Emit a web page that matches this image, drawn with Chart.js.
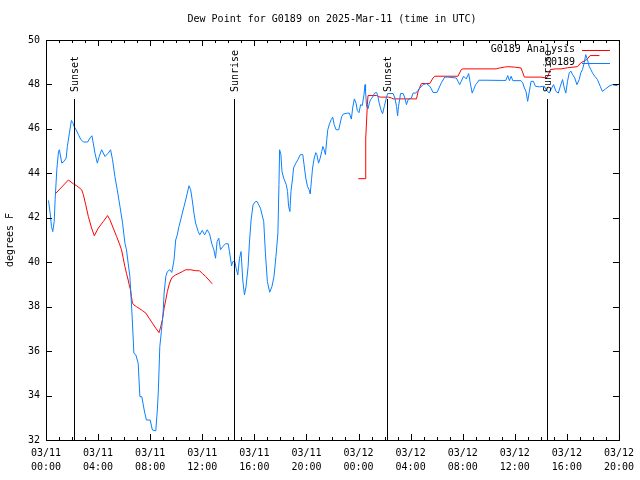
<!DOCTYPE html>
<html>
<head>
<meta charset="utf-8">
<script src="https://cdn.jsdelivr.net/npm/chart.js@4/dist/chart.umd.min.js"></script>
<style>
html, body { margin: 0; padding: 0; background: #fff; }
</style>
</head>
<body>
<canvas id="dewChart" width="640" height="480"></canvas>
<script>
var titleText = 'Dew Point for G0189 on 2025-Mar-11 (time in UTC)';

// hours since 03/11 00:00 UTC
var tickHours = [0, 4, 8, 12, 16, 20, 24, 28, 32, 36, 40, 44];
var tickDays = ['03/11', '03/11', '03/11', '03/11', '03/11', '03/11', '03/12', '03/12', '03/12', '03/12', '03/12', '03/12'];
var tickTimes = ['00:00', '04:00', '08:00', '12:00', '16:00', '20:00', '00:00', '04:00', '08:00', '12:00', '16:00', '20:00'];

var eventHours = [2.13, 14.45, 26.15, 38.47];
var eventNames = ['Sunset', 'Sunrise', 'Sunset', 'Sunrise'];

// G0189 observations
var obsHours = [0.19,0.32,0.42,0.52,0.63,0.70,0.83,0.96,1.03,1.21,
  1.39,1.55,1.64,1.80,1.95,2.05,2.16,2.31,2.49,2.66,
  2.87,3.20,3.38,3.53,3.63,3.76,3.94,4.09,4.27,4.53,
  4.78,4.96,5.11,5.29,5.47,5.68,5.88,6.06,6.18,6.31,
  6.44,6.56,6.64,6.75,6.90,7.08,7.21,7.36,7.54,7.71,
  8.00,8.17,8.43,8.55,8.63,8.74,8.86,8.99,9.07,9.20,
  9.32,9.50,9.66,9.83,9.96,10.08,10.21,10.34,10.47,10.60,
  10.73,10.85,10.98,11.11,11.23,11.36,11.49,11.69,11.80,12.00,
  12.18,12.38,12.56,12.72,12.89,13.02,13.14,13.27,13.40,13.58,
  13.79,13.99,14.09,14.25,14.35,14.50,14.60,14.73,14.86,14.98,
  15.11,15.24,15.36,15.52,15.62,15.75,15.90,16.08,16.21,16.47,
  16.72,16.85,17.00,17.18,17.35,17.51,17.66,17.81,17.89,17.94,
  18.04,18.12,18.25,18.45,18.55,18.63,18.73,18.81,18.94,19.01,
  19.19,19.34,19.53,19.72,19.85,19.95,20.08,20.21,20.29,20.39,
  20.47,20.60,20.72,20.80,20.93,21.06,21.18,21.26,21.36,21.46,
  21.56,21.64,21.77,21.90,22.02,22.13,22.28,22.48,22.59,22.71,
  22.84,23.15,23.30,23.45,23.55,23.68,23.81,23.91,24.04,24.16,
  24.29,24.42,24.50,24.54,24.62,24.73,24.83,24.93,25.08,25.23,
  25.39,25.49,25.59,25.72,25.85,25.98,26.11,26.23,26.66,26.79,
  26.92,27.00,27.07,27.18,27.22,27.43,27.56,27.68,27.81,28.06,
  28.19,28.40,28.58,28.71,28.96,29.21,29.47,29.59,29.72,30.03,
  30.18,30.36,30.62,30.87,31.51,31.64,31.77,31.89,32.07,32.27,
  32.46,32.58,32.73,32.84,32.99,33.11,33.24,33.80,35.08,35.31,
  35.46,35.59,35.72,35.85,36.48,36.61,36.74,36.86,36.99,37.12,
  37.25,37.43,37.58,37.89,38.27,38.40,38.65,38.83,38.98,39.16,
  39.34,39.50,39.67,39.80,39.92,40.05,40.18,40.31,40.44,40.61,
  40.77,40.95,41.07,41.20,41.33,41.45,41.58,41.71,41.84,41.97,
  42.14,42.35,42.56,42.73,42.98,43.24,43.50,43.88];
var obsDew = [42.78,42.21,41.6,41.38,41.83,42.81,44.16,44.99,45.06,44.46,
  44.54,44.69,45.21,45.82,46.38,46.29,46.11,45.96,45.74,45.54,
  45.41,45.41,45.59,45.69,45.36,44.91,44.46,44.76,45.06,44.76,
  44.91,45.06,44.61,43.86,43.26,42.51,41.76,40.86,40.56,39.96,
  39.36,38.16,37.26,35.9,35.83,35.45,33.95,33.95,33.35,32.9,
  32.9,32.45,32.41,33.35,34.25,36.2,36.88,37.7,38.6,39.36,
  39.58,39.66,39.54,40.1,41.0,41.23,41.6,41.9,42.21,42.51,
  42.81,43.11,43.44,43.26,42.81,42.21,41.76,41.38,41.23,41.43,
  41.23,41.46,41.28,40.86,40.56,40.18,40.93,41.08,40.56,40.71,
  40.83,40.83,40.48,39.84,40.03,40.03,39.73,39.43,40.18,40.48,
  39.2,38.53,38.9,39.8,40.86,41.9,42.58,42.73,42.73,42.43,
  41.83,40.41,39.13,38.65,38.9,39.36,40.26,41.31,43.5,45.06,
  44.84,44.09,43.79,43.49,43.18,42.51,42.28,43.18,43.79,44.24,
  44.46,44.61,44.84,44.84,44.24,43.79,43.41,43.26,43.07,43.71,
  44.24,44.69,44.93,44.84,44.46,44.69,44.99,45.21,45.06,44.84,
  45.51,45.96,46.23,46.41,46.53,46.19,45.96,45.96,46.26,46.56,
  46.67,46.71,46.71,46.44,46.94,47.35,47.16,46.82,46.73,47.09,
  47.05,47.54,47.99,47.69,47.01,46.9,47.16,47.32,47.43,47.61,
  47.64,47.46,47.16,46.86,46.68,47.01,47.32,47.59,47.59,47.39,
  47.01,46.59,47.01,47.39,47.59,47.59,47.39,47.09,47.32,47.39,
  47.61,47.61,47.74,47.84,47.99,48.04,47.92,47.8,47.64,47.64,
  47.84,48.07,48.33,48.33,48.29,48.14,47.99,48.14,48.37,48.25,
  48.49,48.07,47.61,47.77,47.99,48.07,48.19,48.19,48.18,48.18,
  48.4,48.17,48.37,48.17,48.17,48.07,47.84,47.69,47.24,47.69,
  48.14,48.14,47.92,47.89,47.92,47.77,47.61,47.84,47.99,47.69,
  47.61,47.92,48.22,47.84,47.61,48.14,48.52,48.6,48.44,48.29,
  47.99,48.22,48.52,48.67,48.97,49.34,49.12,48.82,48.67,48.52,
  48.37,48.22,47.92,47.69,47.8,47.92,47.99,47.94];

// G0189 Analysis, two pieces with a gap between them
var anaHoursA = [0.70,1.72,2.10,2.36,2.74,2.87,3.05,3.25,3.50,3.71,
  4.02,4.40,4.73,4.91,5.16,5.42,5.62,5.80,5.93,6.06,
  6.18,6.31,6.39,6.49,6.56,6.64,6.75,6.95,7.21,7.41,
  7.67,7.92,8.17,8.43,8.68,8.81,8.94,9.07,9.20,9.32,
  9.45,9.58,9.70,9.96,10.21,10.47,10.73,11.11,11.49,11.80,
  12.00,12.26,12.51,12.76];
var anaDewA = [43.07,43.7,43.53,43.44,43.26,43.04,42.59,42.06,41.54,41.19,
  41.54,41.83,42.1,41.91,41.54,41.16,40.86,40.56,40.18,39.8,
  39.5,39.2,38.98,38.76,38.45,38.16,38.08,38.0,37.9,37.82,
  37.71,37.48,37.26,37.03,36.83,37.1,37.41,37.93,38.31,38.68,
  38.98,39.2,39.33,39.43,39.5,39.58,39.66,39.66,39.62,39.61,
  39.5,39.36,39.2,39.03];
var anaHoursB = [23.98,24.50,24.54,24.57,24.68,24.73,25.39,25.65,26.29,26.53,
  26.66,28.45,28.58,28.83,29.47,29.72,29.86,31.64,31.89,32.02,
  34.57,34.83,35.21,35.46,35.98,36.48,36.74,38.01,38.39,38.52,
  38.73,39.16,39.54,40.05,40.82,41.07,41.53,41.79,42.50];
var anaDewB = [43.76,43.76,44.31,45.59,47.09,47.5,47.5,47.43,47.43,47.39,
  47.35,47.35,47.69,48.04,48.04,48.29,48.37,48.37,48.67,48.7,
  48.7,48.74,48.78,48.8,48.78,48.74,48.33,48.33,48.29,48.33,
  48.67,48.7,48.7,48.75,48.8,48.97,49.12,49.3,49.3];

function toPoints(xs, ys) {
    var pts = [];
    for (var i = 0; i < xs.length; i++) {
        pts.push({x: xs[i], y: ys[i]});
    }
    return pts;
}

var monoFont = '"DejaVu Sans Mono", "Liberation Mono", monospace';
var obsPoints = toPoints(obsHours, obsDew);
var anaPoints = toPoints(anaHoursA, anaDewA).concat([{x: 18, y: null}], toPoints(anaHoursB, anaDewB));

// frame with inward ticks, sun lines, legend and title
var framePlugin = {
    id: 'frame',
    afterDraw: function(chart) {
        var c = chart.ctx, a = chart.chartArea;
        var xs = chart.scales.x, ys = chart.scales.y;
        c.save();
        c.strokeStyle = '#000';
        c.lineWidth = 1;
        c.strokeRect(a.left + 0.5, a.top + 0.5, a.right - a.left, a.bottom - a.top);

        c.beginPath();
        for (var h = 0; h <= 44; h++) {
            var px = Math.round(xs.getPixelForValue(h)) + 0.5;
            var len = (h % 4 === 0) ? 6 : 3;
            c.moveTo(px, a.bottom); c.lineTo(px, a.bottom - len);
            c.moveTo(px, a.top); c.lineTo(px, a.top + len);
        }
        for (var v = 32; v <= 50; v += 2) {
            var py = Math.round(ys.getPixelForValue(v)) + 0.5;
            c.moveTo(a.left, py); c.lineTo(a.left + 6, py);
            c.moveTo(a.right, py); c.lineTo(a.right - 6, py);
        }
        c.stroke();

        // sunrise / sunset markers
        var lineTop = Math.round(ys.getPixelForValue(47.36));
        c.font = '10px ' + monoFont;
        c.fillStyle = '#000';
        for (var i = 0; i < eventHours.length; i++) {
            var ex = Math.round(xs.getPixelForValue(eventHours[i])) + 0.5;
            c.beginPath();
            c.moveTo(ex, lineTop);
            c.lineTo(ex, a.bottom);
            c.stroke();
            c.save();
            c.translate(ex + 1, lineTop - 7);
            c.rotate(-Math.PI / 2);
            c.textAlign = 'left';
            c.textBaseline = 'middle';
            c.fillText(eventNames[i], 0, 0);
            c.restore();
        }

        // legend, text left of sample line
        var ds = chart.data.datasets;
        c.textAlign = 'right';
        c.textBaseline = 'middle';
        for (var k = 0; k < ds.length; k++) {
            var ly = 49.5 + k * 13;
            c.fillStyle = '#000';
            c.fillText(ds[k].label, 575, ly);
            c.strokeStyle = ds[k].borderColor;
            c.beginPath();
            c.moveTo(582, Math.round(ly) + 0.5);
            c.lineTo(610, Math.round(ly) + 0.5);
            c.stroke();
        }

        c.fillStyle = '#000';
        c.textAlign = 'center';
        c.fillText(titleText, 332, 19);
        c.restore();
    }
};

var ctx = document.getElementById('dewChart').getContext('2d');
var dewChart = new Chart(ctx, {
    type: 'line',
    data: {
        datasets: [
            {
                label: 'G0189 Analysis',
                data: anaPoints,
                borderColor: '#ff0000',
                borderWidth: 1,
                pointRadius: 0,
                tension: 0,
                spanGaps: false,
                order: 2
            },
            {
                label: 'G0189',
                data: obsPoints,
                borderColor: '#0a80ff',
                borderWidth: 1,
                pointRadius: 0,
                tension: 0,
                order: 1
            }
        ]
    },
    options: {
        responsive: false,
        animation: false,
        devicePixelRatio: 1,
        layout: { padding: { top: 40, right: 18, left: 0, bottom: 0 } },
        plugins: {
            legend: { display: false },
            title: { display: false },
            tooltip: { enabled: false }
        },
        scales: {
            x: {
                type: 'linear',
                min: 0,
                max: 44,
                afterBuildTicks: function(s) {
                    s.ticks = tickHours.map(function(h) { return {value: h}; });
                },
                afterFit: function(s) { s.height = 40; },
                ticks: {
                    autoSkip: false,
                    maxRotation: 0,
                    padding: 6,
                    color: '#000',
                    font: { family: monoFont, size: 10, lineHeight: 1.4 },
                    callback: function(v, i) { return [tickDays[i], tickTimes[i]]; }
                },
                grid: { display: false, drawTicks: false },
                border: { display: false }
            },
            y: {
                min: 32,
                max: 50,
                afterFit: function(s) { s.width = 46; },
                ticks: {
                    stepSize: 2,
                    padding: 6,
                    color: '#000',
                    font: { family: monoFont, size: 10 }
                },
                title: {
                    display: true,
                    text: 'degrees F',
                    color: '#000',
                    font: { family: monoFont, size: 10 },
                    padding: { top: 4, bottom: 0 }
                },
                grid: { display: false, drawTicks: false },
                border: { display: false }
            }
        }
    },
    plugins: [framePlugin]
});
</script>
</body>
</html>
